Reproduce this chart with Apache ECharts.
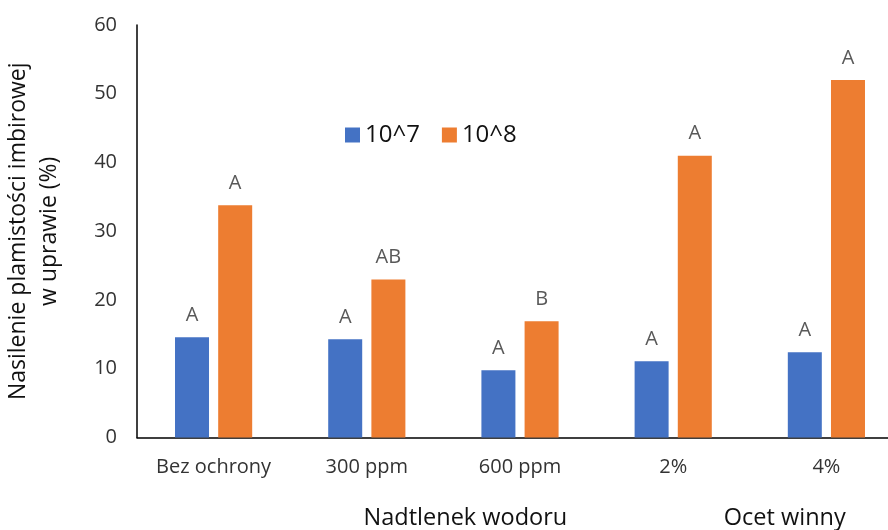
<!DOCTYPE html>
<html><head><meta charset="utf-8">
<script src="https://cdn.jsdelivr.net/npm/echarts@6/dist/echarts.min.js"></script>
<style>html,body{margin:0;padding:0;background:#fff}#c{width:888px;height:530px}</style>
</head><body><div id="c"></div>
<script>
const categories = ['Bez ochrony', '300 ppm', '600 ppm', '2%', '4%'];
const seriesNames = ['10^7', '10^8'];
const values107 = [14.6, 14.3, 9.8, 11.1, 12.4];
const values108 = [33.8, 23.0, 16.9, 41.0, 52.0];
const letters107 = ['A', 'A', 'A', 'A', 'A'];
const letters108 = ['A', 'AB', 'B', 'A', 'A'];
const yTicks = [0, 10, 20, 30, 40, 50, 60];
const groupLabels = ['Nadtlenek wodoru', 'Ocet winny'];

const FONT = '"Open Sans", "Noto Sans", sans-serif';
const chart = echarts.init(document.getElementById('c'), null, {renderer: 'canvas'});

function mk(vals, letters) {
  return vals.map((v, i) => ({value: v, label: {formatter: letters[i]}}));
}
const labelCfg = {show: true, position: 'top', distance: 12, color: '#595959', fontSize: 20, fontFamily: FONT};

chart.setOption({
  animation: false,
  backgroundColor: '#fff',
  grid: {left: 137, top: 25, width: 766, height: 412.5, containLabel: false, outerBoundsMode: 'none'},
  legend: {
    left: 340, top: 118, itemWidth: 15, itemHeight: 15, itemGap: 22,
    icon: 'rect',
    textStyle: {fontSize: 24, color: '#111', fontFamily: FONT},
    data: seriesNames
  },
  xAxis: {
    type: 'category', data: categories,
    axisLine: {lineStyle: {color: '#000', width: 1.5}},
    axisTick: {show: false},
    axisLabel: {color: '#333', fontSize: 20, margin: 20, fontFamily: FONT, interval: 0}
  },
  yAxis: {
    type: 'value', min: yTicks[0], max: yTicks[yTicks.length - 1], interval: 10,
    name: 'Nasilenie plamistości imbirowej\nw uprawie (%)',
    nameLocation: 'middle', nameGap: 72, nameRotate: 90,
    nameTextStyle: {fontSize: 23, color: '#111', lineHeight: 31, fontFamily: FONT},
    axisLine: {show: true, lineStyle: {color: '#000', width: 1.5}},
    axisTick: {show: false},
    splitLine: {show: false},
    axisLabel: {color: '#333', fontSize: 20, margin: 20, fontFamily: FONT}
  },
  series: [
    {name: seriesNames[0], type: 'bar', data: mk(values107, letters107), barWidth: 34, barGap: '27%',
     itemStyle: {color: '#4472C4'}, label: labelCfg},
    {name: seriesNames[1], type: 'bar', data: mk(values108, letters108), barWidth: 34, barGap: '27%',
     itemStyle: {color: '#ED7D31'}, label: labelCfg}
  ]
});

const p1 = chart.convertToPixel({xAxisIndex: 0}, categories[1]);
const p2 = chart.convertToPixel({xAxisIndex: 0}, categories[2]);
const p3 = chart.convertToPixel({xAxisIndex: 0}, categories[3]);
const p4 = chart.convertToPixel({xAxisIndex: 0}, categories[4]);
chart.setOption({
  graphic: [
    {type: 'text', x: (p1 + p2) / 2 + 22, y: 518, style: {text: groupLabels[0], fontSize: 23.5, fill: '#111', fontFamily: FONT, align: 'center', verticalAlign: 'middle'}},
    {type: 'text', x: (p3 + p4) / 2 + 35, y: 518, style: {text: groupLabels[1], fontSize: 23.5, fill: '#111', fontFamily: FONT, align: 'center', verticalAlign: 'middle'}}
  ]
});
</script></body></html>
